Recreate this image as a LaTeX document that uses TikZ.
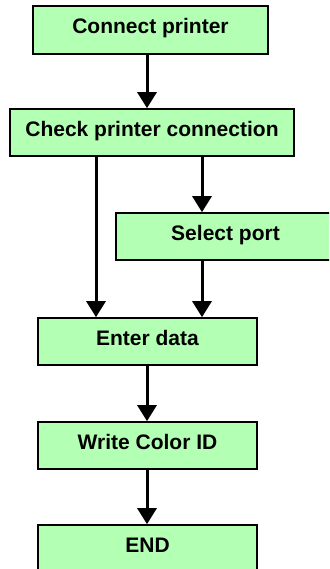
\documentclass[tikz,border=0pt]{standalone}
\usepackage{fontspec}
\setmainfont{Liberation Sans}
\usetikzlibrary{arrows.meta}
\definecolor{boxgreen}{RGB}{179,255,179}
\begin{document}
\begin{tikzpicture}[x=1pt,y=-1pt,
  stepbox/.style={draw=black,fill=boxgreen,line width=1.6pt,inner sep=0pt,
    font=\fontsize{21}{25}\selectfont\bfseries,text height=15pt,text depth=7pt},
  flow/.style={line width=3pt,-{Triangle[width=19pt,length=16pt]}}]
\useasboundingbox (0,0) rectangle (329,569);
\clip (0,0) rectangle (329,569);
\fill[white] (0,0) rectangle (329,569);
\node[stepbox,minimum width=235pt,minimum height=48pt] (b1) at (150.5,30) {Connect printer};
\node[stepbox,minimum width=284pt,minimum height=47pt] (b2) at (152,132.5) {Check printer connection};
\node[stepbox,minimum width=219pt,minimum height=47pt] (sp) at (225.5,236.5) {Select port};
\node[stepbox,minimum width=219pt,minimum height=47pt] (ed) at (147.5,341.5) {Enter data};
\node[stepbox,minimum width=219pt,minimum height=47pt] (wc) at (147.5,445.5) {Write Color ID};
\node[stepbox,minimum width=219pt,minimum height=47pt] (en) at (147.5,548.5) {END};
\coordinate (cl) at (96,0);
\coordinate (cr) at (202,0);
\coordinate (cm) at (147,0);
\draw[flow] (b1.south -| cm) -- (b2.north -| cm);
\draw[flow] (b2.south -| cl) -- (ed.north -| cl);
\draw[flow] (b2.south -| cr) -- (sp.north -| cr);
\draw[flow] (sp.south -| cr) -- (ed.north -| cr);
\draw[flow] (ed.south -| cm) -- (wc.north -| cm);
\draw[flow] (wc.south -| cm) -- (en.north -| cm);
\end{tikzpicture}
\end{document}
